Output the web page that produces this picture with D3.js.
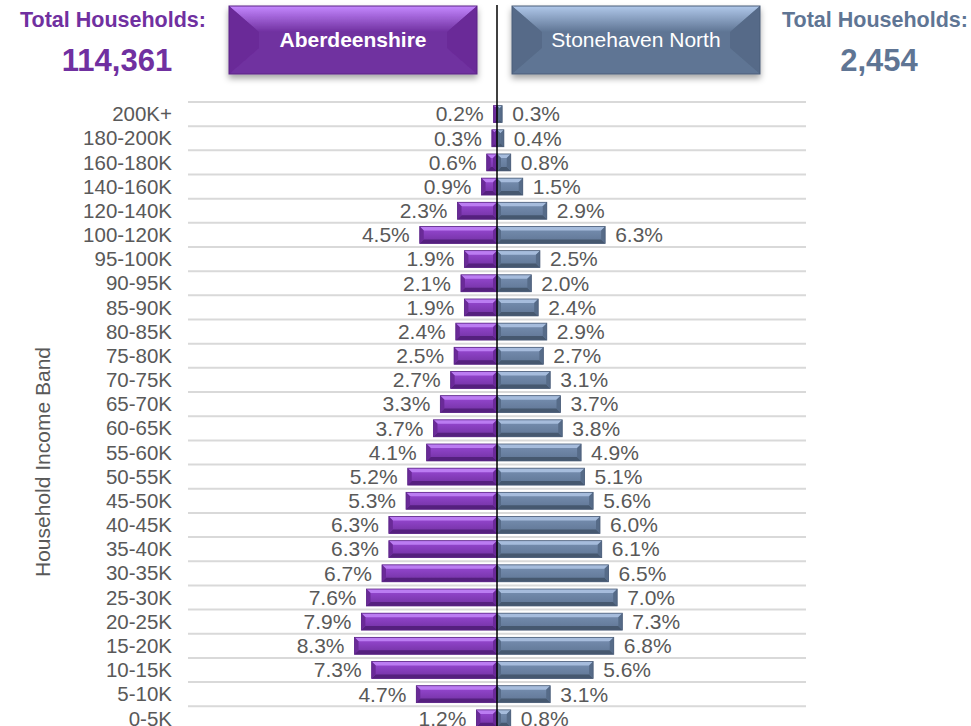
<!DOCTYPE html>
<html>
<head>
<meta charset="utf-8">
<script src="https://cdn.jsdelivr.net/npm/d3@7"></script>
<style>
  body { margin: 0; background: #fff; }
  svg { display: block; font-family: "Liberation Sans", Arial, sans-serif; }
</style>
</head>
<body>
<div id="chart"></div>
<script>
// income bands, top to bottom
var bands = ["200K+", "180-200K", "160-180K", "140-160K", "120-140K", "100-120K",
  "95-100K", "90-95K", "85-90K", "80-85K", "75-80K", "70-75K", "65-70K", "60-65K",
  "55-60K", "50-55K", "45-50K", "40-45K", "35-40K", "30-35K", "25-30K", "20-25K",
  "15-20K", "10-15K", "5-10K", "0-5K"];

// % of households, Aberdeenshire (left)
var aberdeenshire = [0.2, 0.3, 0.6, 0.9, 2.3, 4.5, 1.9, 2.1, 1.9, 2.4, 2.5, 2.7, 3.3, 3.7,
  4.1, 5.2, 5.3, 6.3, 6.3, 6.7, 7.6, 7.9, 8.3, 7.3, 4.7, 1.2];

// % of households, Stonehaven North (right)
var stonehaven = [0.3, 0.4, 0.8, 1.5, 2.9, 6.3, 2.5, 2.0, 2.4, 2.9, 2.7, 3.1, 3.7, 3.8,
  4.9, 5.1, 5.6, 6.0, 6.1, 6.5, 7.0, 7.3, 6.8, 5.6, 3.1, 0.8];

var totals = { left: "114,361", right: "2,454" };

var width = 971, height = 726;
var svg = d3.select("#chart").append("svg")
  .attr("width", width)
  .attr("height", height);

var defs = svg.append("defs");

// colour sets for the two areas
var palette = {
  purple: { face0: "#9a4ad6", face1: "#7030a0", top: "#bb7cf2", bottom: "#55207e", side: "#6a2a98", stroke: "#5a2485", text: "#7030a0", hi: "#c488ff" },
  blue:   { face0: "#7890b2", face1: "#5f7594", top: "#a6bcdc", bottom: "#46586f", side: "#566b88", stroke: "#4b5d78", text: "#5f7594", hi: "#b0c8ea" }
};

Object.keys(palette).forEach(function (k) {
  var g = defs.append("linearGradient").attr("id", "face-" + k)
    .attr("x1", 0).attr("y1", 0).attr("x2", 0).attr("y2", 1);
  g.append("stop").attr("offset", "0%").attr("stop-color", palette[k].face0);
  g.append("stop").attr("offset", "100%").attr("stop-color", palette[k].face1);
  var t = defs.append("linearGradient").attr("id", "top-" + k)
    .attr("x1", 0).attr("y1", 0).attr("x2", 0).attr("y2", 1);
  t.append("stop").attr("offset", "0%").attr("stop-color", palette[k].hi);
  t.append("stop").attr("offset", "100%").attr("stop-color", palette[k].face1);
});

var shadow = defs.append("filter").attr("id", "shadow")
  .attr("x", "-10%").attr("y", "-10%").attr("width", "120%").attr("height", "140%");
shadow.append("feDropShadow").attr("dx", 0).attr("dy", 4).attr("stdDeviation", 3)
  .attr("flood-color", "#000").attr("flood-opacity", 0.35);

// scales
var x = d3.scaleLinear().domain([-18, 18]).range([188, 806]);
var y = d3.scaleBand().domain(bands).range([102, 102 + 24.17 * bands.length]).paddingInner(0.3).paddingOuter(0.15);

// gridlines
svg.append("g").selectAll("line")
  .data(bands)
  .enter().append("line")
  .attr("x1", x.range()[0]).attr("x2", x.range()[1])
  .attr("y1", function (d) { return y(d) - y.step() * y.paddingInner() / 2; })
  .attr("y2", function (d) { return y(d) - y.step() * y.paddingInner() / 2; })
  .attr("stroke", "#d9d9d9").attr("stroke-width", 2);

var pts = function (a) { return a.map(function (q) { return q.join(","); }).join(" "); };

// bevelled bar: face + light top edge + dark bottom edge + side wedges
function bevelBar(g, x0, x1, y0, h, c) {
  var w = x1 - x0;
  var b = Math.min(4, w / 2, h / 2);
  var p = palette[c];
  g.append("rect").attr("x", x0).attr("y", y0).attr("width", w).attr("height", h)
    .attr("fill", "url(#face-" + c + ")");
  g.append("polygon").attr("fill", p.top)
    .attr("points", pts([[x0, y0], [x1, y0], [x1 - b, y0 + b], [x0 + b, y0 + b]]));
  g.append("polygon").attr("fill", p.bottom)
    .attr("points", pts([[x0, y0 + h], [x1, y0 + h], [x1 - b, y0 + h - b], [x0 + b, y0 + h - b]]));
  g.append("polygon").attr("fill", p.side)
    .attr("points", pts([[x0, y0], [x0 + b, y0 + b], [x0 + b, y0 + h - b], [x0, y0 + h]]));
  g.append("polygon").attr("fill", p.side)
    .attr("points", pts([[x1, y0], [x1 - b, y0 + b], [x1 - b, y0 + h - b], [x1, y0 + h]]));
  g.append("rect").attr("x", x0).attr("y", y0).attr("width", w).attr("height", h)
    .attr("fill", "none").attr("stroke", p.stroke).attr("stroke-width", 0.8);
}

var bars = svg.append("g");
bands.forEach(function (band, i) {
  bevelBar(bars.append("g"), x(-aberdeenshire[i]), x(0), y(band), y.bandwidth(), "purple");
  bevelBar(bars.append("g"), x(0), x(stonehaven[i]), y(band), y.bandwidth(), "blue");
});

// value labels
var labels = svg.append("g").attr("font-size", "21px").attr("fill", "#595959");
labels.selectAll("text.left")
  .data(aberdeenshire)
  .enter().append("text")
  .attr("class", "left")
  .attr("x", function (d) { return x(-d) - 10; })
  .attr("y", function (d, i) { return y(bands[i]) + y.bandwidth() / 2; })
  .attr("dy", "0.35em")
  .attr("text-anchor", "end")
  .text(function (d) { return d.toFixed(1) + "%"; });
labels.selectAll("text.right")
  .data(stonehaven)
  .enter().append("text")
  .attr("class", "right")
  .attr("x", function (d) { return x(d) + 10; })
  .attr("y", function (d, i) { return y(bands[i]) + y.bandwidth() / 2; })
  .attr("dy", "0.35em")
  .text(function (d) { return d.toFixed(1) + "%"; });

// band tick labels
svg.append("g").attr("font-size", "20.5px").attr("fill", "#595959")
  .selectAll("text")
  .data(bands)
  .enter().append("text")
  .attr("x", 172)
  .attr("y", function (d) { return y(d) + y.bandwidth() / 2; })
  .attr("dy", "0.35em")
  .attr("text-anchor", "end")
  .text(function (d) { return d; });

// axis title
svg.append("text")
  .attr("transform", "translate(50,462) rotate(-90)")
  .attr("text-anchor", "middle")
  .attr("font-size", "21px")
  .attr("fill", "#595959")
  .text("Household Income Band");

// centre axis
svg.append("line")
  .attr("x1", x(0)).attr("x2", x(0))
  .attr("y1", 5).attr("y2", height)
  .attr("stroke", "#000").attr("stroke-width", 1.5);

// header boxes
function headerBox(x0, label, c, bold) {
  var g = svg.append("g").attr("filter", "url(#shadow)");
  var w = 248, h = 68, y0 = 6, bx = 30, by = 26;
  var p = palette[c];
  g.append("rect").attr("x", x0).attr("y", y0).attr("width", w).attr("height", h).attr("fill", p.face1);
  g.append("polygon").attr("fill", "url(#top-" + c + ")")
    .attr("points", pts([[x0, y0], [x0 + w, y0], [x0 + w - bx, y0 + by], [x0 + bx, y0 + by]]));
  g.append("polygon").attr("fill", p.side)
    .attr("points", pts([[x0, y0], [x0 + bx, y0 + by], [x0 + bx, y0 + h - by], [x0, y0 + h]]));
  g.append("polygon").attr("fill", p.side)
    .attr("points", pts([[x0 + w, y0], [x0 + w - bx, y0 + by], [x0 + w - bx, y0 + h - by], [x0 + w, y0 + h]]));
  g.append("rect").attr("x", x0).attr("y", y0).attr("width", w).attr("height", h)
    .attr("fill", "none").attr("stroke", p.stroke).attr("stroke-width", 1);
  svg.append("text")
    .attr("x", x0 + w / 2).attr("y", y0 + h / 2)
    .attr("dy", "0.35em")
    .attr("text-anchor", "middle")
    .attr("font-size", "21px")
    .attr("font-weight", bold ? "bold" : "normal")
    .attr("fill", "#fff")
    .text(label);
}
headerBox(229, "Aberdeenshire", "purple", true);
headerBox(512, "Stonehaven North", "blue", false);

// totals
function totalText(cx, cx2, value, c) {
  svg.append("text").attr("x", cx).attr("y", 27)
    .attr("text-anchor", "middle").attr("font-size", "21.5px").attr("font-weight", "bold")
    .attr("fill", palette[c].text).text("Total Households:");
  svg.append("text").attr("x", cx2).attr("y", 71)
    .attr("text-anchor", "middle").attr("font-size", "31px").attr("font-weight", "bold")
    .attr("fill", palette[c].text).text(value);
}
totalText(113, 117, totals.left, "purple");
totalText(875, 879, totals.right, "blue");
</script>
</body>
</html>
